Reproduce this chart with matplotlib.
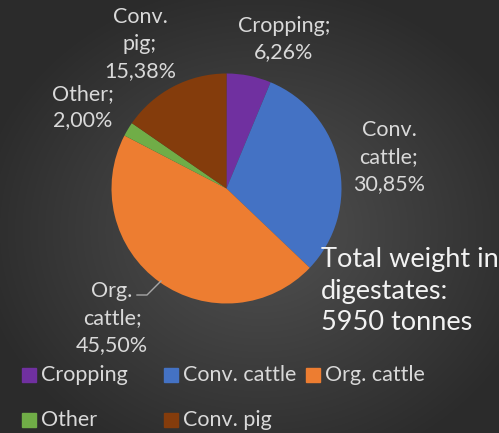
import matplotlib
matplotlib.use("Agg")
import matplotlib.pyplot as plt
from matplotlib.patches import Rectangle
from matplotlib.lines import Line2D
import numpy as np

plt.rcParams['font.family'] = ['Lato', 'DejaVu Sans']

categories = ["Cropping", "Conv. cattle", "Org. cattle", "Other", "Conv. pig"]
shares = [6.26, 30.85, 45.50, 2.00, 15.38]
colors = ["#7030A0", "#4472C4", "#ED7D31", "#70AD47", "#843C0C"]
total_tonnes = 5950

W, H = 499, 433
fig = plt.figure(figsize=(W / 100, H / 100), dpi=100)

# dark radial background
bg = fig.add_axes([0, 0, 1, 1])
yy, xx = np.mgrid[0:H, 0:W]
r = np.sqrt(((xx - 260) / W) ** 2 + ((yy - 230) / H) ** 2)
shade = np.clip(0.32 - 0.26 * r, 0.17, 0.32)
bg.imshow(np.dstack([shade] * 3), extent=[0, W, H, 0], aspect="auto")
bg.set_xlim(0, W)
bg.set_ylim(H, 0)
bg.axis("off")


def fx(px):
    return px / W


def fy(py):
    return 1 - py / H


# pie centred at pixel (226, 188), radius 115 px
cx, cy, rad = 226.5, 188.5, 115
ax = fig.add_axes([fx(cx - rad), fy(cy + rad), 2 * rad / W, 2 * rad / H])
ax.pie(shares, colors=colors, startangle=90, counterclock=False,
       wedgeprops=dict(linewidth=0))
ax.set_xlim(-1, 1)
ax.set_ylim(-1, 1)
ax.set_aspect("auto")
ax.axis("off")

label_col = "#D9D9D9"
label_pos = [(284, 39), (389, 157), (112, 318), (83, 107), (140, 44)]
for name, val, (px, py) in zip(categories, shares, label_pos):
    txt = name.replace(" ", "\n") + ";\n" + f"{val:.2f}".replace(".", ",") + "%"
    fig.text(fx(px), fy(py), txt, ha="center", va="center", color=label_col,
             fontsize=15.5, linespacing=1.42)

# leader line for Org. cattle
fig.add_artist(Line2D([fx(137), fx(147), fx(161)], [fy(295), fy(295), fy(281)],
                      color="#A6A6A6", lw=1))

fig.text(fx(321), fy(291), f"Total weight in\ndigestates:\n{total_tonnes} tonnes",
         ha="left", va="center", color="#F2F2F2", fontsize=19.5, linespacing=1.3)

# legend, two rows
leg_pos = [(22, 375), (164, 375), (306, 375), (22, 420), (164, 420)]
for name, col, (px, py) in zip(categories, colors, leg_pos):
    fig.add_artist(Rectangle((fx(px), fy(py + 7)), 14 / W, 14 / H, color=col,
                             transform=fig.transFigure))
    fig.text(fx(px + 19), fy(py), name, ha="left", va="center",
             color=label_col, fontsize=15.5)

fig.savefig("out.png", dpi=100)
